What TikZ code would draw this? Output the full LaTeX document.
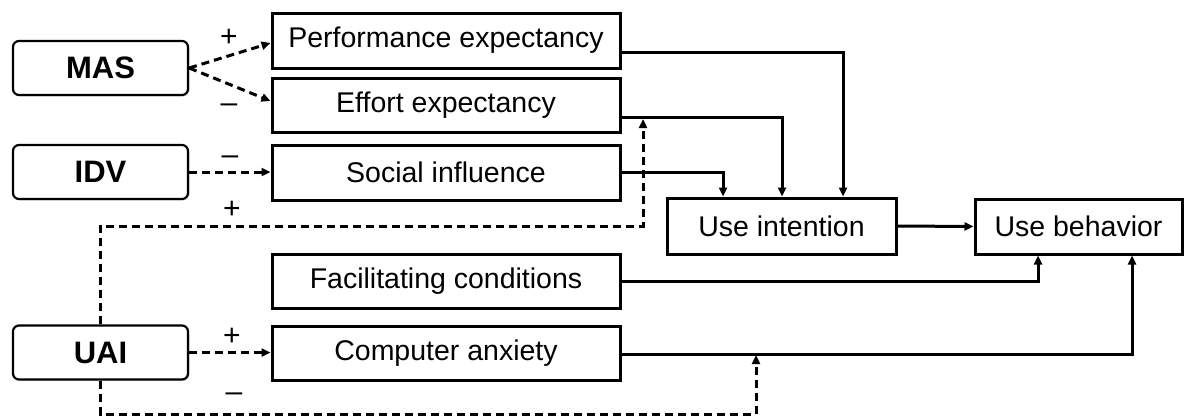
\documentclass[tikz,border=0pt]{standalone}
\usepackage{fontspec}
\setmainfont{Liberation Sans}
\usetikzlibrary{arrows.meta,shadows}
\begin{document}
\begin{tikzpicture}[x=1pt,y=-1pt,
  box/.style={draw=black,line width=3pt,rectangle,minimum width=348pt,minimum height=54pt,inner sep=0pt,font=\fontsize{28.5}{32}\selectfont},
  cult/.style={draw=black,line width=2.2pt,rounded corners=6pt,rectangle,minimum width=175pt,minimum height=54pt,inner sep=0pt,font=\fontsize{31}{34}\selectfont\bfseries,fill=white,drop shadow={shadow xshift=1.5pt,shadow yshift=-1.5pt,opacity=0.25}},
  con/.style={line width=3pt,-{Triangle[length=9pt,width=8pt]}},
  dcon/.style={con,dash pattern=on 8pt off 5pt},
  sign/.style={font=\fontsize{30}{32}\selectfont,inner sep=0pt}]
\useasboundingbox (0,0) rectangle (1202,418);

% cultural dimensions
\node[cult] (MAS) at (100.5,68) {MAS};
\node[cult] (IDV) at (100.5,172) {IDV};
\node[cult] (UAI) at (100.5,352.5) {UAI};

% constructs
\node[box,minimum height=55pt] (PE) at (446,40.5) {Performance expectancy};
\node[box] (EE) at (446,105.5) {Effort expectancy};
\node[box,minimum height=55pt] (SI) at (446,172.5) {Social influence};
\node[box,minimum height=54pt] (FC) at (446,281) {Facilitating conditions};
\node[box] (CA) at (446,353) {Computer anxiety};
\node[box,minimum width=229pt,minimum height=56pt] (UI) at (781.5,226) {Use intention};
\node[box,minimum width=207pt,minimum height=55pt] (UB) at (1078.5,226.5) {Use behavior};

% solid connectors
\draw[con] ([yshift=-11.5pt]PE.east) -| (843,0 |- UI.north);
\draw[con] ([yshift=-11.5pt]EE.east) -| (782,0 |- UI.north);
\draw[con] (SI.east) -| (723,0 |- UI.north);
\draw[con] (UI.east) -- (UB.west);
\draw[con] (FC.east) -| (1038,0 |- UB.south);
\draw[con] ([yshift=-1.5pt]CA.east) -| (1132,0 |- UB.south);

% moderating (dashed) connectors
\coordinate (eeline) at (643,119);
\coordinate (caline) at (756,355);
\draw[dcon] (MAS.east) -- (PE.west |- 0,43);
\draw[dcon] (MAS.east) -- (EE.west |- 0,101);
\draw[dcon] (IDV.east) -- (SI.west |- IDV.east);
\draw[dcon] (UAI.east) -- (CA.west |- UAI.east);
\draw[dcon] (UAI.north) |- (643,226) -- (eeline);
\draw[dcon] (UAI.south) |- (756,414) -- (caline);

% signs
\node[sign] (s1) at (229,38) {+};
\node[sign] (s2) at (229,108) {–};
\node[sign] (s3) at (230,160) {–};
\node[sign] (s4) at (232,210) {+};
\node[sign] (s5) at (232,337) {+};
\node[sign] (s6) at (234,397) {–};
\end{tikzpicture}
\end{document}
